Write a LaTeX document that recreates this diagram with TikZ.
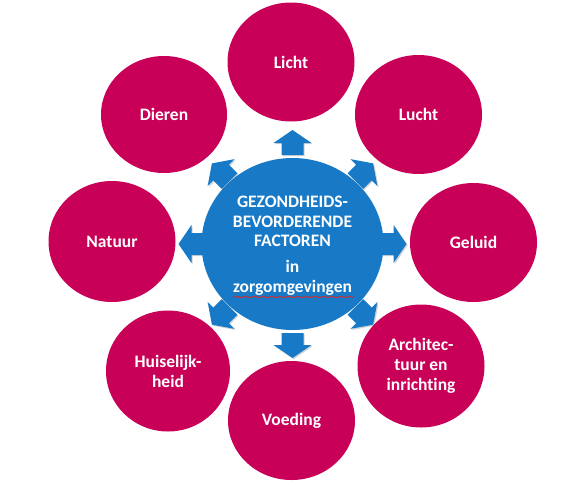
\documentclass[tikz,border=0pt]{standalone}
\usepackage{fontspec}
\setmainfont{Carlito}[Ligatures={NoCommon}]
\usetikzlibrary{shapes.geometric,shadows,decorations.pathmorphing}
\definecolor{petal}{RGB}{200,0,88}
\definecolor{hubblue}{RGB}{24,122,198}
\definecolor{squiggle}{RGB}{210,40,40}
\tikzset{
  petalnode/.style={ellipse, fill=petal, inner sep=0pt, minimum width=127pt, minimum height=119pt,
    text=white, font=\fontsize{17.5}{20}\selectfont\bfseries, align=center},
  hubnode/.style={ellipse, fill=hubblue, draw=white, line width=1.2pt, inner sep=0pt,
    minimum width=182pt, minimum height=172pt},
  hubtext/.style={text=white, font=\fontsize{17.5}{19.5}\selectfont\bfseries, align=center, inner sep=0pt},
  blockarrow/.style={fill=hubblue, drop shadow={opacity=0.35, shadow xshift=1.2pt, shadow yshift=-1.2pt}}
}
\begin{document}
\begin{tikzpicture}[x=1pt,y=-1pt]
\useasboundingbox (0,0) rectangle (570,490);
% hub
\node[hubnode] (hub) at (292.5,244) {};
% arrows
\foreach \a in {0,45,...,315}{
  \begin{scope}[shift={(hub.center)}, rotate=\a]
    \fill[blockarrow] (89,-11) -- (101,-11) -- (101,-19) -- (114,0) -- (101,19) -- (101,11) -- (89,11) -- cycle;
  \end{scope}
}
\node[hubnode, draw=none] (hubtop) at (hub.center) {};
\node[hubtext] (title) at (292.5,245.5) {GEZONDHEIDS-\\BEVORDERENDE\\FACTOREN\\[6.5pt]in\\zorgomgevingen};
\coordinate (sqA) at (233,297);
\coordinate (sqB) at (354,297);
\draw[squiggle, line width=0.6pt, decorate, decoration={snake, amplitude=0.7pt, segment length=2.6pt}] (sqA) -- (sqB);
% petals
\node[petalnode] (licht) at (291,62) {Licht};
\node[petalnode] (lucht) at (418.5,114.5) {Lucht};
\node[petalnode] (geluid) at (473.5,242.5) {Geluid};
\node[petalnode, minimum height=123pt] (archi) at (421,366) {Architec-\\tuur en\\inrichting};
\node[petalnode] (voeding) at (291.5,420.5) {Voeding};
\node[petalnode, minimum width=124pt, minimum height=121pt] (huis) at (168,371) {Huiselijk-\\heid};
\node[petalnode, minimum height=121pt] (natuur) at (112,241.5) {Natuur};
\node[petalnode, minimum width=126pt, minimum height=117pt] (dieren) at (164,114.5) {Dieren};
\end{tikzpicture}
\end{document}
